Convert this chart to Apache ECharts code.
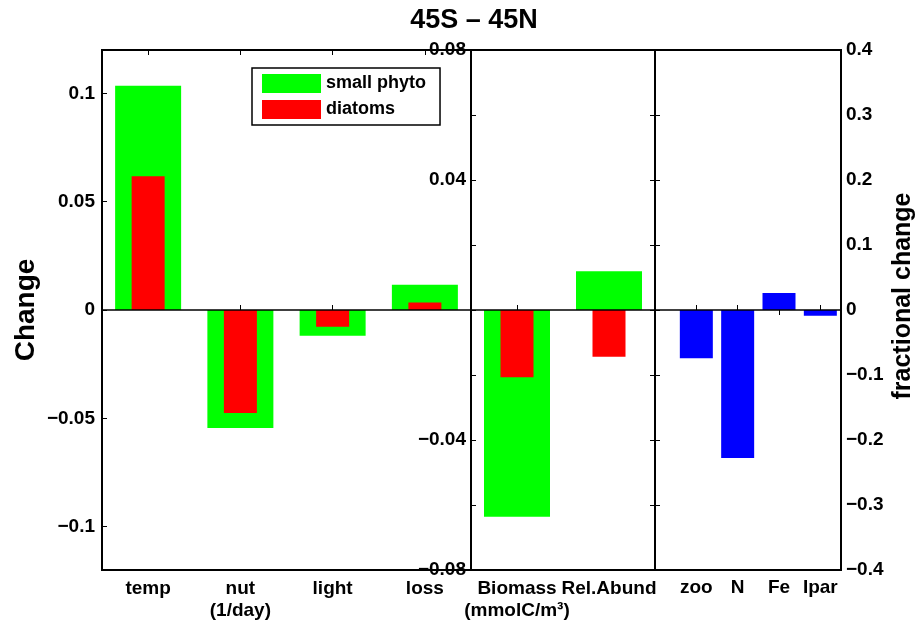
<!DOCTYPE html>
<html>
<head>
<meta charset="utf-8">
<title>45S - 45N</title>
<script src="https://cdn.jsdelivr.net/npm/echarts@6/dist/echarts.min.js"></script>
<style>
  html, body { margin: 0; padding: 0; background: #fff; }
  #chart { width: 919px; height: 622px; }
</style>
</head>
<body>
<div id="chart"></div>
<script>
// left panel: rate contributions (1/day)
const rateCats = ['temp', 'nut', 'light', 'loss']
const rateSmall = [0.1035, -0.0545, -0.0119, 0.0117]
const rateDiatoms = [0.0617, -0.0475, -0.0077, 0.0035]
const rateTicks = [-0.1, -0.05, 0, 0.05, 0.1]

// middle panel: biomass / relative abundance
const bioCats = ['Biomass', 'Rel.Abund']
const bioSmall = [-0.0636, 0.0119]
const bioDiatoms = [-0.0207, -0.0144]
const bioLabels = [-0.08, -0.04, 0.04, 0.08]

// right panel: fractional change of drivers
const fracCats = ['zoo', 'N', 'Fe', 'Ipar']
const fracValues = [-0.0743, -0.2277, 0.026, -0.0087]

const FONT = 'Liberation Sans'
const txt = { fontFamily: FONT, fontWeight: 'bold', fontSize: 19, color: '#000' }
const fmt = v => (v < 0 ? '\u2212' + String(-v) : String(v))
const tick = { show: true, inside: true, length: 5, lineStyle: { color: '#000', width: 1 } }
const zeroLine = {
  silent: true,
  symbol: 'none',
  label: { show: false },
  lineStyle: { color: '#000', width: 1.5, type: 'solid' },
  data: [{ yAxis: 0 }]
}

const chart = echarts.init(document.getElementById('chart'))

const gridBase = { top: 50, height: 520, show: true, borderColor: '#000', borderWidth: 2, backgroundColor: 'transparent' }

const option = {
  animation: false,
  graphic: [{
    type: 'text', x: 474, y: 21,
    style: { text: '45S \u2013 45N', align: 'center', verticalAlign: 'middle', font: 'bold 27px "Liberation Sans"', fill: '#000' }
  }],
  legend: {
    data: ['small phyto', 'diatoms'],
    orient: 'vertical',
    left: 252, top: 68,
    padding: [6, 14, 6, 10],
    itemGap: 7, itemWidth: 59, itemHeight: 19,
    icon: 'rect',
    borderColor: '#000', borderWidth: 1.5,
    backgroundColor: '#fff',
    selectedMode: false,
    textStyle: { fontFamily: FONT, fontWeight: 'bold', fontSize: 18, color: '#000' }
  },
  grid: [
    Object.assign({ left: 102, width: 369 }, gridBase),
    Object.assign({ left: 471, width: 184 }, gridBase),
    Object.assign({ left: 655, width: 186 }, gridBase)
  ],
  xAxis: [
    {
      gridIndex: 0, type: 'category', data: rateCats,
      axisLine: { show: false }, axisTick: Object.assign({ alignWithLabel: true }, tick),
      axisLabel: Object.assign({ interval: 0, margin: 8, lineHeight: 22, formatter: v => v === 'nut' ? 'nut\n(1/day)' : v }, txt)
    },
    {
      gridIndex: 0, type: 'category', data: rateCats, position: 'top',
      axisLine: { show: false }, axisTick: Object.assign({ alignWithLabel: true }, tick),
      axisLabel: { show: false }
    },
    { gridIndex: 0, type: 'category', data: rateCats, show: false },
    {
      gridIndex: 1, type: 'category', data: bioCats,
      axisLine: { show: false }, axisTick: Object.assign({ alignWithLabel: true }, tick),
      axisLabel: Object.assign({ interval: 0, hideOverlap: false, margin: 8, lineHeight: 22, formatter: v => v === 'Biomass' ? 'Biomass\n(mmolC/m\u00b3)' : v }, txt)
    },
    {
      gridIndex: 1, type: 'category', data: bioCats, position: 'top',
      axisLine: { show: false }, axisTick: Object.assign({ alignWithLabel: true }, tick),
      axisLabel: { show: false }
    },
    { gridIndex: 1, type: 'category', data: bioCats, show: false },
    {
      gridIndex: 2, type: 'value', min: 0, max: 4.5,
      splitLine: { show: false }, axisLine: { show: false },
      axisTick: Object.assign({ customValues: [1, 2, 3, 4] }, tick),
      axisLabel: Object.assign({ margin: 8, customValues: [1, 2, 3, 4], formatter: v => fracCats[Math.round(v) - 1] }, txt)
    },
    {
      gridIndex: 2, type: 'value', min: 0, max: 4.5, position: 'top',
      splitLine: { show: false }, axisLine: { show: false },
      axisTick: Object.assign({ customValues: [1, 2, 3, 4] }, tick),
      axisLabel: { show: false }
    }
  ],
  yAxis: [
    {
      gridIndex: 0, type: 'value', min: -0.12, max: 0.12,
      splitLine: { show: false }, axisLine: { show: false },
      axisTick: Object.assign({ customValues: rateTicks }, tick),
      axisLabel: Object.assign({ margin: 7, customValues: rateTicks, formatter: fmt }, txt),
      name: 'Change', nameLocation: 'middle', nameGap: 62, nameRotate: 90,
      nameTextStyle: { fontFamily: FONT, fontWeight: 'bold', fontSize: 28, color: '#000' }
    },
    {
      gridIndex: 1, type: 'value', min: -0.08, max: 0.08, interval: 0.02,
      splitLine: { show: false }, axisLine: { show: false },
      axisTick: tick,
      axisLabel: Object.assign({ margin: 5, customValues: bioLabels, formatter: fmt }, txt)
    },
    {
      gridIndex: 1, type: 'value', min: -0.08, max: 0.08, interval: 0.02, position: 'right',
      splitLine: { show: false }, axisLine: { show: false },
      axisTick: tick, axisLabel: { show: false }
    },
    {
      gridIndex: 2, type: 'value', min: -0.4, max: 0.4, interval: 0.1,
      splitLine: { show: false }, axisLine: { show: false },
      axisTick: tick, axisLabel: { show: false }
    },
    {
      gridIndex: 2, type: 'value', min: -0.4, max: 0.4, interval: 0.1, position: 'right',
      splitLine: { show: false }, axisLine: { show: false },
      axisTick: tick,
      axisLabel: Object.assign({ margin: 5, formatter: fmt }, txt),
      name: 'fractional change', nameLocation: 'middle', nameGap: 50, nameRotate: 90,
      nameTextStyle: { fontFamily: FONT, fontWeight: 'bold', fontSize: 25, color: '#000', padding: [0, 0, 0, 28] }
    }
  ],
  series: [
    {
      name: 'small phyto', type: 'bar', xAxisIndex: 0, yAxisIndex: 0,
      data: rateSmall, barWidth: 66, itemStyle: { color: '#00ff00' }, markLine: zeroLine
    },
    {
      name: 'diatoms', type: 'bar', xAxisIndex: 2, yAxisIndex: 0,
      data: rateDiatoms, barWidth: 33, itemStyle: { color: '#ff0000' }
    },
    {
      name: 'small phyto', type: 'bar', xAxisIndex: 3, yAxisIndex: 1,
      data: bioSmall, barWidth: 66, itemStyle: { color: '#00ff00' }, markLine: zeroLine
    },
    {
      name: 'diatoms', type: 'bar', xAxisIndex: 5, yAxisIndex: 1,
      data: bioDiatoms, barWidth: 33, itemStyle: { color: '#ff0000' }
    },
    {
      name: 'fraction', type: 'bar', xAxisIndex: 6, yAxisIndex: 4,
      data: fracValues.map((v, i) => [i + 1, v]), barWidth: 33,
      itemStyle: { color: '#0000ff' }, markLine: zeroLine
    }
  ]
}

chart.setOption(option)
</script>
</body>
</html>
